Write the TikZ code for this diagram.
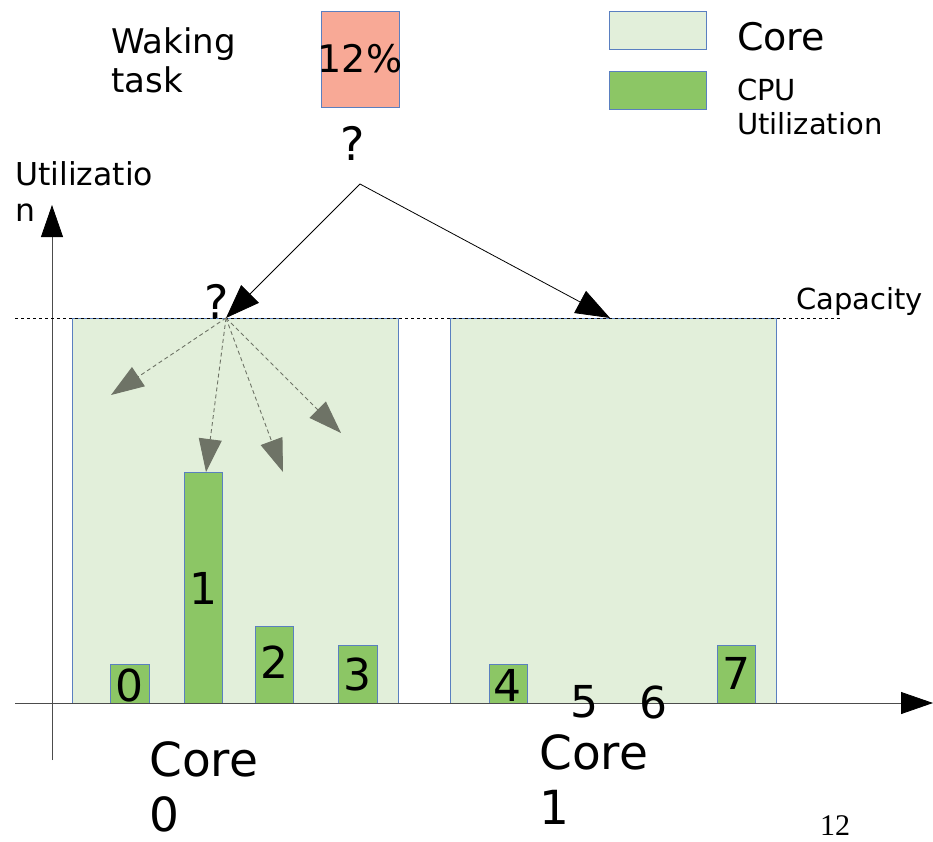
\documentclass[tikz,border=0pt]{standalone}
\usepackage{fontspec}
\setmainfont{DejaVu Sans}
\newfontfamily\pagenumfont{Liberation Serif}
\usetikzlibrary{arrows.meta}
\definecolor{corefill}{HTML}{E2EFDA}
\definecolor{boxedge}{HTML}{5A7FC0}
\definecolor{barfill}{HTML}{8CC665}
\definecolor{taskfill}{HTML}{F8A996}
\definecolor{guessgray}{HTML}{6E7366}
\tikzset{
  corebox/.style={draw=boxedge, fill=corefill, line width=0.8pt},
  barbox/.style={draw=boxedge, fill=barfill, line width=0.8pt},
  lbl/.style={inner sep=0pt, font=\fontsize{#1}{#1}\selectfont\setlength{\baselineskip}{1.17\baselineskip}},
  mainarrow/.style={-{Triangle[length=34pt,width=25pt]}, line width=0.8pt, black},
  guessarrow/.style={-{Triangle[length=33pt,width=23pt]}, guessgray, line width=0.9pt, dash pattern=on 4pt off 3pt},
  axisarrow/.style={-{Triangle[length=32pt,width=22pt,black]}, line width=0.8pt, black!70},
}
\begin{document}
\begin{tikzpicture}[x=1pt,y=-1pt]
\useasboundingbox (0,0) rectangle (933,842);

% core boxes
\draw[corebox] (72,318) rectangle (398,703);
\draw[corebox] (450,318) rectangle (776,703);

% bars
\draw[barbox] (110,664) rectangle (149,703);
\draw[barbox] (184,472) rectangle (222,703);
\draw[barbox] (255,626) rectangle (293,703);
\draw[barbox] (338,645) rectangle (377,703);
\draw[barbox] (489,664) rectangle (527,703);
\draw[barbox] (717,645) rectangle (755,703);

% axes
\coordinate (yfoot) at (52,760);
\coordinate (ytop) at (52,205);
\coordinate (xleft) at (15,703);
\coordinate (xright) at (933,703);
\draw[axisarrow] (yfoot) -- (ytop);
\draw[axisarrow] (xleft) -- (xright);

% capacity line
\coordinate (capL) at (15,318);
\coordinate (capR) at (840,318);
\draw[dashed, line width=0.7pt] (capL) -- (capR);
\node[lbl=29, anchor=north west] (capacity) at (796,287) {Capacity};

% bar labels
\node[lbl=44] (n0) at (129,685) {0};
\node[lbl=44] (n1) at (203,588) {1};
\node[lbl=44] (n2) at (274,662) {2};
\node[lbl=44] (n3) at (357,674) {3};
\node[lbl=44] (n4) at (507,685) {4};
\node[lbl=44] (n5) at (584,702) {5};
\node[lbl=44] (n6) at (653,702) {6};
\node[lbl=44] (n7) at (736,673) {7};

% core labels
\node[lbl=47, anchor=north west, align=left] (c0lbl) at (149,741) {Core\\0};
\node[lbl=47, anchor=north west, align=left] (c1lbl) at (539,734) {Core\\1};

% axis label
\node[lbl=31.5, anchor=north west, align=left] (ylbl) at (15,161) {Utilizatio\\n};

% waking task
\node[lbl=34, anchor=north west, align=left] (wtxt) at (111,27) {Waking\\task};
\draw[draw=boxedge, fill=taskfill, line width=0.8pt] (321,11) rectangle (399,107);
\node[lbl=38] (task) at (360,59) {12\%};

% legend
\draw[corebox] (609,11) rectangle (706,49);
\node[lbl=38, anchor=west] (legcore) at (737,37) {Core};
\draw[barbox] (609,71) rectangle (706,109);
\node[lbl=29, anchor=north west, align=left] (legcpu) at (737,79) {CPU\\Utilization};

% question marks and arrows
\node[lbl=46] (q1) at (353,143) {?};
\coordinate (apex) at (360,184);
\coordinate (tgt0) at (226,318);
\coordinate (tgt1) at (610,318);
\node[lbl=46] (q2) at (217,301) {?};
\draw[mainarrow] (apex) -- (tgt0);
\draw[mainarrow] (apex) -- (tgt1);

\coordinate (g1) at (111,395);
\coordinate (g2) at (206,472);
\coordinate (g3) at (283,472);
\coordinate (g4) at (341,433);
\draw[guessarrow] (tgt0) -- (g1);
\draw[guessarrow] (tgt0) -- (g2);
\draw[guessarrow] (tgt0) -- (g3);
\draw[guessarrow] (tgt0) -- (g4);

% page number
\node[inner sep=0pt, font=\pagenumfont\fontsize{30}{34}\selectfont] (pnum) at (835,826) {12};
\end{tikzpicture}
\end{document}
